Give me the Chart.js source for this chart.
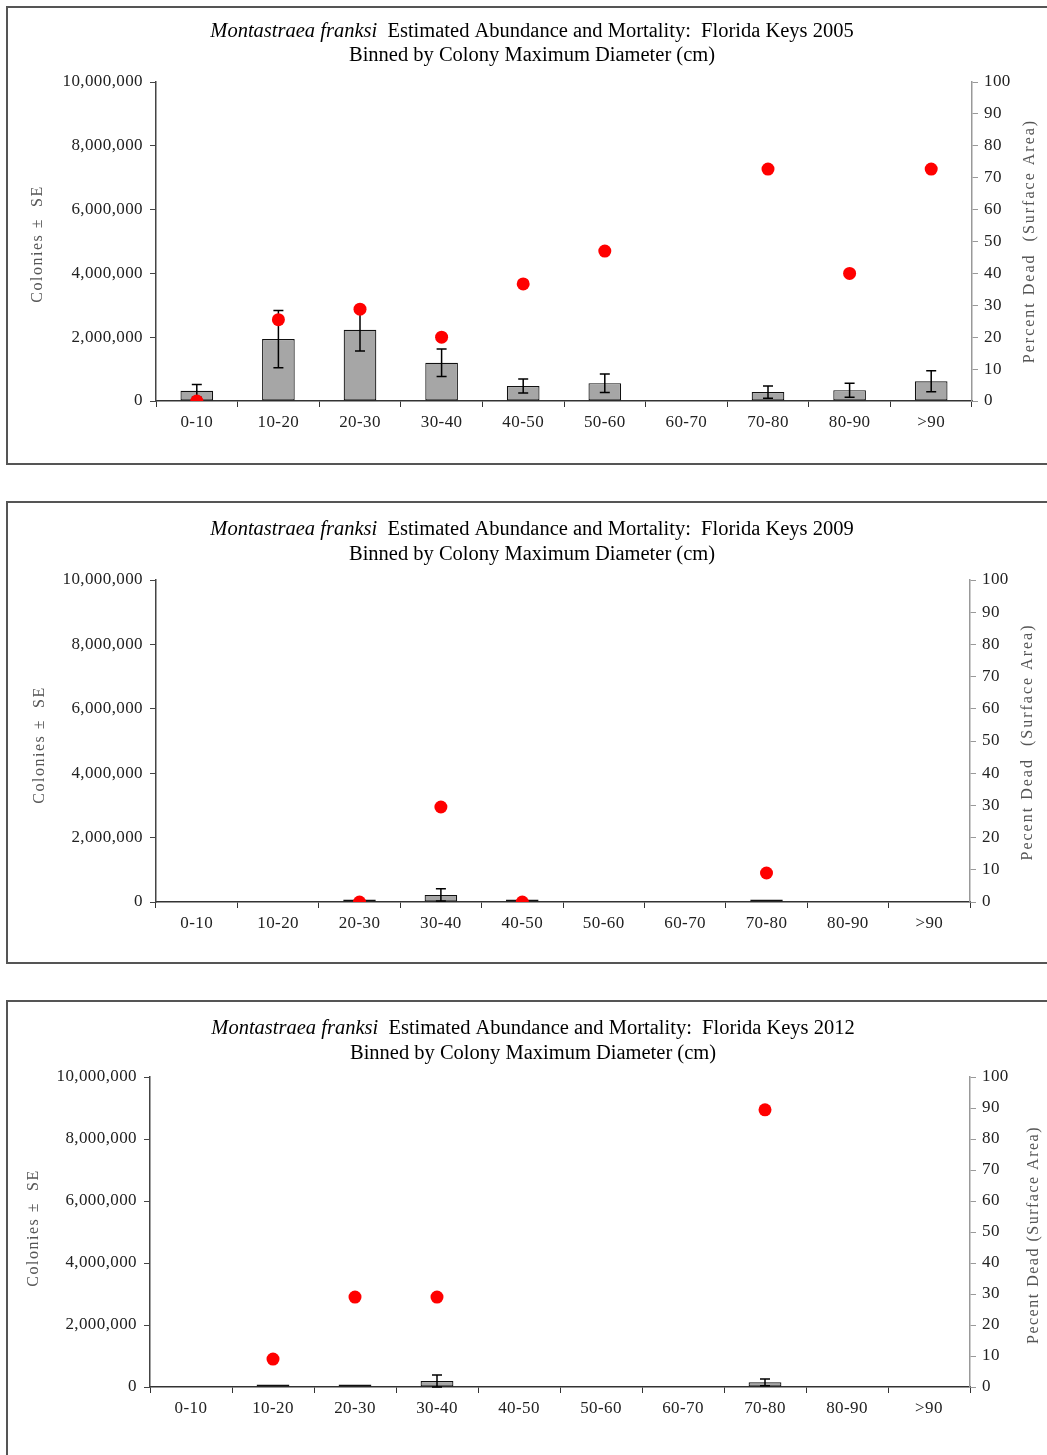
<!DOCTYPE html>
<html><head><meta charset="utf-8">
<script src="https://cdn.jsdelivr.net/npm/chart.js@4/dist/chart.umd.min.js"></script>
<style>
html,body{margin:0;padding:0;background:#fff;overflow:hidden;width:1047px;height:1455px;}
.frame{position:absolute;border:2px solid #555;box-sizing:border-box;}
.cv{position:absolute;left:0;}
</style></head><body>
<div class="frame" style="left:6px;top:6px;width:1100px;height:459px;"></div>
<div class="frame" style="left:6px;top:501px;width:1100px;height:463px;"></div>
<div class="frame" style="left:6px;top:1000px;width:1100px;height:500px;"></div>
<div class="cv" style="top:0;width:1047px;height:470px;"><canvas id="c1"></canvas></div>
<div class="cv" style="top:495px;width:1047px;height:470px;"><canvas id="c2"></canvas></div>
<div class="cv" style="top:995px;width:1047px;height:460px;"><canvas id="c3"></canvas></div>
<script>
const categories = ['0-10','10-20','20-30','30-40','40-50','50-60','60-70','70-80','80-90','>90'];
const yTickValues = [0,2000000,4000000,6000000,8000000,10000000];

const colonies2005 = [320000,1940000,2230000,1200000,470000,560000,0,280000,340000,620000];
const se2005       = [200000,900000,660000,430000,220000,290000,0,190000,220000,330000];
const dead2005     = [0,25.5,28.8,20,36.7,47,null,72.7,40,72.7];

const colonies2009 = [0,0,80000,220000,80000,0,0,80000,0,0];
const se2009       = [0,0,0,190000,0,0,0,0,0,0];
const dead2009     = [null,null,0,29.5,0,null,null,9,null,null];

const colonies2012 = [0,80000,80000,190000,0,0,0,150000,0,0];
const se2012       = [0,0,0,200000,0,0,0,110000,0,0];
const dead2012     = [null,9,29,29,null,null,null,89.4,null,null];

const SERIF = "'Liberation Serif','Times New Roman',serif";

const errorBars = {
  id:'errorBars',
  afterDatasetDraw(chart,args,opts){
    if(args.index!==1) return;
    const se = opts.se; const vals = chart.data.datasets[1].data;
    const ys = chart.scales.y; const ctx = chart.ctx;
    ctx.save(); ctx.strokeStyle='#000'; ctx.lineWidth=1.5;
    args.meta.data.forEach((bar,i)=>{
      if(!se[i]) return;
      const t = ys.getPixelForValue(vals[i]+se[i]);
      const b = ys.getPixelForValue(Math.max(0,vals[i]-se[i]));
      ctx.beginPath();
      ctx.moveTo(bar.x,t); ctx.lineTo(bar.x,b);
      ctx.moveTo(bar.x-5,t); ctx.lineTo(bar.x+5,t);
      ctx.moveTo(bar.x-5,b); ctx.lineTo(bar.x+5,b);
      ctx.stroke();
    });
    ctx.restore();
  }
};

const spacing = {
  id:'spacing',
  beforeDraw(chart){ chart.ctx.letterSpacing = '0.4px'; },
  afterDraw(chart){ chart.ctx.letterSpacing = '0px'; }
};

const texts = {
  id:'texts',
  afterDraw(chart,args,o){
    const ctx = chart.ctx; ctx.save();
    ctx.letterSpacing='0px';
    ctx.textBaseline='middle'; ctx.fillStyle='#000';
    const it = 'Montastraea franksi', rest = '  Estimated Abundance and Mortality:  Florida Keys '+o.year;
    ctx.font = 'italic 20.5px '+SERIF; const w1 = ctx.measureText(it).width;
    ctx.font = '20.5px '+SERIF; const w2 = ctx.measureText(rest).width;
    let x0 = o.cx - (w1+w2)/2;
    ctx.textAlign='left';
    ctx.font = 'italic 20.5px '+SERIF; ctx.fillText(it,x0,o.t1);
    ctx.font = '20.5px '+SERIF; ctx.fillText(rest,x0+w1,o.t1);
    ctx.textAlign='center';
    ctx.fillText('Binned by Colony Maximum Diameter (cm)',o.cx,o.t2);
    ctx.fillStyle='#555'; ctx.font='16px '+SERIF;
    ctx.letterSpacing = '1.5px';
    ctx.save(); ctx.translate(o.lx,o.ly); ctx.rotate(-Math.PI/2); ctx.fillText('Colonies \u00b1  SE',0,0); ctx.restore();
    ctx.letterSpacing = o.rs;
    ctx.save(); ctx.translate(o.rx,o.ry); ctx.rotate(-Math.PI/2); ctx.fillText(o.rtitle,0,0); ctx.restore();
    ctx.restore();
  }
};

function make(id, colonies, se, dead, p){
  new Chart(document.getElementById(id), {
    data:{
      labels: categories,
      datasets:[
        {type:'line', data: dead, yAxisID:'y1', showLine:false, pointRadius:6.5, pointHoverRadius:6.5,
         pointBackgroundColor:'#ff0000', pointBorderColor:'#ff0000', pointBorderWidth:0, clip:0, order:0},
        {type:'bar', data: colonies, yAxisID:'y', backgroundColor:'#a6a6a6', borderColor:'#111', borderWidth:1.2,
         borderSkipped:false, barPercentage:0.4, categoryPercentage:1, order:1}
      ]
    },
    options:{
      responsive:true, maintainAspectRatio:false, animation:false,
      layout:{padding:{top:p.top,bottom:0,left:0,right:0}},
      plugins:{legend:{display:false}, tooltip:{enabled:false}, title:{display:false},
        errorBars:{se:se}, texts:p.texts},
      scales:{
        x:{offset:true, grid:{display:true, offset:true, drawOnChartArea:false, tickLength:6, color:'#333'},
           border:{color:'#333', width:1.5},
           ticks:{font:{family:SERIF,size:17}, color:'#222', padding:5, maxRotation:0},
           afterFit(s){s.height=p.xh;}},
        y:{position:'left', min:0, max:10000000,
           afterBuildTicks(s){s.ticks = yTickValues.map(v=>({value:v}));},
           grid:{drawOnChartArea:false, tickLength:6, color:'#444'}, border:{color:'#444', width:1.5},
           ticks:{font:{family:SERIF,size:17}, color:'#222', padding:7, callback:v=>v.toLocaleString('en-US')},
           afterFit(s){s.width=p.lw;}},
        y1:{position:'right', min:0, max:100, ticks:{stepSize:10, font:{family:SERIF,size:17}, color:'#222', padding:6},
           grid:{drawOnChartArea:false, tickLength:6, color:'#999'}, border:{color:'#999', width:1.5},
           afterFit(s){s.width=p.rw;}}
      }
    },
    plugins:[spacing, errorBars, texts]
  });
}

make('c1', colonies2005, se2005, dead2005, {top:82, xh:69, lw:156, rw:75,
  texts:{year:'2005', cx:532, t1:32, t2:56, lx:38, ly:244, rx:1030, ry:241, rs:'2px', rtitle:'Percent Dead  (Surface Area)'}});
make('c2', colonies2009, se2009, dead2009, {top:85, xh:63, lw:156, rw:77,
  texts:{year:'2009', cx:532, t1:35, t2:60, lx:40, ly:250, rx:1028, ry:247, rs:'2px', rtitle:'Pecent Dead  (Surface Area)'}});
make('c3', colonies2012, se2012, dead2012, {top:82, xh:68, lw:150, rw:77,
  texts:{year:'2012', cx:533, t1:34, t2:59, lx:34, ly:233, rx:1034, ry:240, rs:'1.5px', rtitle:'Pecent Dead (Surface Area)'}});
</script>
</body></html>
